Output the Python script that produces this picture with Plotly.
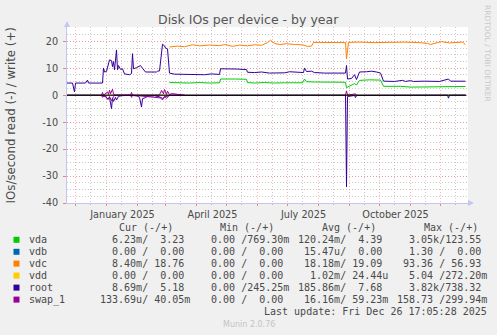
import plotly.graph_objects as go
import pandas as pd

# ---------------- data ----------------
root_w_dates = ["2024-11-22","2024-11-28","2024-11-30","2024-12-01","2024-12-11","2024-12-13","2024-12-14","2024-12-28",
    "2024-12-29","2024-12-30","2025-01-01","2025-01-04","2025-01-06","2025-01-07","2025-01-08","2025-01-09","2025-01-11",
    "2025-01-12","2025-01-13","2025-01-15","2025-01-17","2025-01-19","2025-01-24","2025-01-26","2025-01-27","2025-01-28",
    "2025-01-31","2025-02-02","2025-02-04","2025-02-06","2025-02-09","2025-02-20","2025-02-21","2025-02-23","2025-02-26",
    "2025-02-28","2025-03-01","2025-03-03","2025-03-05","2025-03-10","2025-03-20","2025-03-30","2025-04-09","2025-04-16",
    "2025-04-24","2025-04-25","2025-05-04","2025-05-12","2025-05-21","2025-05-22","2025-05-29","2025-06-05","2025-06-13",
    "2025-06-21","2025-06-28","2025-07-03","2025-07-10","2025-07-17","2025-07-18","2025-07-20","2025-07-25","2025-07-28",
    "2025-08-07","2025-08-17","2025-08-28","2025-08-29","2025-08-30","2025-09-03","2025-09-06","2025-09-08","2025-09-11",
    "2025-09-18","2025-09-23","2025-09-28","2025-10-02","2025-10-05","2025-10-16","2025-10-24","2025-10-27","2025-11-01",
    "2025-11-04","2025-11-15","2025-11-30","2025-12-09","2025-12-11","2025-12-26"]
root_w = [4.5,4.5,1.2,4.5,4.5,5.6,4.5,4.5,
    10.1,8.6,8.8,13.1,12.8,10.6,12.5,9.4,16.8,
    9.4,11.0,9.6,9.8,7.9,7.6,8.0,15.4,9.8,
    10.2,10.5,11.0,10.0,8.6,8.6,8.9,9.0,18.9,
    18.3,17.5,17.2,8.2,7.8,7.7,7.8,7.6,7.9,
    7.7,9.8,9.6,9.7,9.5,8.5,8.4,8.6,8.2,
    8.3,8.3,8.7,8.6,8.4,10.1,8.8,8.9,8.4,
    8.2,8.1,8.2,11.0,6.0,6.2,7.6,5.8,8.6,
    8.7,8.9,8.6,8.2,5.2,5.1,5.5,5.1,5.4,
    5.1,5.2,5.1,6.0,5.2,5.18]

root_r_dates = ["2024-11-22","2024-12-28","2024-12-29","2024-12-31","2025-01-02","2025-01-04","2025-01-06","2025-01-07",
    "2025-01-08","2025-01-10","2025-01-11","2025-01-13","2025-01-16","2025-01-24","2025-02-01","2025-02-03","2025-02-05",
    "2025-02-06","2025-02-09","2025-02-11","2025-02-18","2025-02-23","2025-02-26","2025-03-01","2025-03-05","2025-08-28",
    "2025-08-29","2025-08-30","2025-09-06","2025-09-07","2025-09-08","2025-12-08","2025-12-09","2025-12-10","2025-12-26"]
root_r = [0.0,0.0,-0.5,-0.3,-1.5,-0.8,-5.0,-1.0,
    -2.3,-0.8,-1.8,-0.4,-0.2,0.0,-0.3,-0.8,-4.4,
    -1.3,-0.9,-0.4,-0.2,-0.6,-1.2,-0.5,-0.1,0.0,
    -34.0,-0.5,-0.1,-0.9,-0.1,0.0,-1.1,0.0,0.0]

vda_w_dates = ["2025-03-05","2025-03-15","2025-03-25","2025-04-04","2025-04-14","2025-04-24","2025-04-25","2025-05-10",
    "2025-05-21","2025-05-22","2025-05-29","2025-06-08","2025-06-18","2025-06-28","2025-07-08","2025-07-16","2025-07-18",
    "2025-07-20","2025-07-28","2025-08-07","2025-08-17","2025-08-28","2025-08-29","2025-09-03","2025-09-06","2025-09-08",
    "2025-09-11","2025-09-21","2025-10-02","2025-10-05","2025-10-22","2025-11-01","2025-11-16","2025-11-30","2025-12-15",
    "2025-12-26"]
vda_w = [4.7,4.6,4.5,4.7,4.5,4.6,6.0,6.0,
    5.9,4.7,4.5,4.7,4.5,4.6,4.6,4.6,6.0,
    5.0,4.9,4.8,4.8,4.8,2.8,3.9,4.3,3.8,
    5.5,5.7,5.6,3.3,3.3,3.0,3.1,3.2,3.1,
    3.23]

vdc_w_dates = ["2025-03-05","2025-03-13","2025-03-20","2025-03-28","2025-04-04","2025-04-14","2025-04-24","2025-04-30",
    "2025-05-07","2025-05-14","2025-05-22","2025-05-29","2025-06-05","2025-06-11","2025-06-14","2025-06-18","2025-06-23",
    "2025-06-30","2025-07-08","2025-07-16","2025-07-21","2025-07-25","2025-07-27","2025-08-12","2025-08-28","2025-08-29",
    "2025-08-31","2025-09-11","2025-09-26","2025-10-11","2025-10-26","2025-11-10","2025-11-18","2025-11-21","2025-11-27",
    "2025-12-02","2025-12-10","2025-12-20","2025-12-23","2025-12-26"]
vdc_w = [17.9,18.2,18.0,18.7,18.3,18.6,18.4,18.8,
    18.1,18.6,18.3,18.7,18.5,19.5,20.4,19.2,18.8,
    19.1,18.8,18.7,18.1,18.2,19.6,19.6,19.5,13.5,
    19.6,19.7,19.5,19.6,19.7,19.5,19.2,18.8,19.4,
    19.9,19.4,19.6,19.7,18.76]

vdb_dates = ["2024-11-22","2025-12-26"]
vdb_w = [0.0, 0.0]
vdd_dates = ["2024-11-22","2025-12-26"]
vdd_w = [0.0, 0.0]

swap_w_dates = ["2024-12-27","2024-12-28","2024-12-29","2025-01-02","2025-01-03","2025-01-04","2025-01-05",
    "2025-01-07","2025-01-08","2025-01-09","2025-01-10","2025-01-25","2025-01-26","2025-01-27","2025-02-22","2025-02-24",
    "2025-02-25","2025-02-27","2025-02-28","2025-03-02","2025-03-03","2025-03-05","2025-03-07","2025-03-20"]
swap_w = [0.0,1.0,0.0,1.2,0.3,1.8,0.5,
    2.2,0.4,0.0,0.0,0.0,1.0,0.0,0.0,0.8,
    1.8,0.5,2.1,0.3,1.5,0.2,0.6,0.0]
swap_r_dates = ["2024-12-27","2024-12-28","2024-12-29","2025-01-03","2025-01-04","2025-01-06","2025-01-08",
    "2025-01-09","2025-01-25","2025-01-26","2025-01-27","2025-02-24","2025-02-26","2025-02-28","2025-03-02","2025-03-04",
    "2025-03-06","2025-03-20"]
swap_r = [0.0,-0.8,0.0,-1.5,-0.5,-2.0,-0.6,
    0.0,0.0,-0.8,0.0,-1.0,-1.8,-0.4,-1.2,-0.3,
    0.0,0.0]
swap_late_dates = ["2025-08-28","2025-08-29","2025-08-30","2025-09-07","2025-09-08"]
swap_late_w = [0.0,1.6,0.0,0.5,0.0]

x_labels = ["January 2025", "April 2025", "July 2025", "October 2025"]
x_label_months = ["2025-01-01", "2025-04-01", "2025-07-01", "2025-10-01"]
y_ticks = [-40, -30, -20, -10, 0, 10, 20]

legend_names = ["vda", "vdb", "vdc", "vdd", "root", "swap_1"]
legend_colors = ["#00CC00", "#0066B3", "#FF8000", "#FFCC00", "#330099", "#990099"]
legend_headers = ["Cur (-/+)", "Min (-/+)", "Avg (-/+)", "Max (-/+)"]
legend_cur = ["  6.23m/  3.23", "  0.00 /  0.00", "  8.40m/ 18.76", "  0.00 /  0.00", "  8.69m/  5.18", "133.69u/ 40.05m"]
legend_min = ["  0.00 /769.30m", "  0.00 /  0.00", "  0.00 /  0.00", "  0.00 /  0.00", "  0.00 /245.25m", "  0.00 /  0.00"]
legend_avg = ["120.24m/  4.39", " 15.47u/  0.00", " 18.18m/ 19.09", "  1.02m/ 24.44u", "185.86m/  7.68", " 16.16m/ 59.23m"]
legend_max = ["  3.05k/123.55", "  1.30 /  0.00", " 93.36 / 56.93", "  5.04 /272.20m", "  3.82k/738.32", "158.73 /299.94m"]
last_update = "Last update: Fri Dec 26 17:05:28 2025"

# ---------------- layout geometry ----------------
W, H = 497, 335
ML, MR, MT, MB = 67, 29, 27, 132
PW = W - ML - MR
PH = H - MT - MB

def px(x):
    return (x - ML) / PW

def py(y):
    return (H - MB - y) / PH

SANS = "DejaVu Sans"
MONO = "DejaVu Sans Mono"
TXT = "#4a4a4a"

fig = go.Figure()

def add(xs, ys, color):
    fig.add_trace(go.Scatter(x=xs, y=ys, mode="lines", line=dict(color=color, width=1),
                             hoverinfo="skip", showlegend=False))

add(vda_w_dates, vda_w, legend_colors[0])
add(vdb_dates, vdb_w, legend_colors[1])
add(vdc_w_dates, vdc_w, legend_colors[2])
add(vdd_dates, vdd_w, legend_colors[3])
add(root_r_dates, root_r, legend_colors[4])
add(root_w_dates, root_w, legend_colors[4])
add(swap_r_dates, swap_r, legend_colors[5])
add(swap_w_dates, swap_w, legend_colors[5])
add(swap_late_dates, swap_late_w, legend_colors[5])

month_starts = [d.strftime("%Y-%m-%d") for d in pd.date_range("2024-12-01", "2025-12-01", freq="MS")]
mid_months = [(d + pd.Timedelta(days=15)).strftime("%Y-%m-%d") for d in pd.date_range("2024-11-01", "2025-12-01", freq="MS")]
ticktext = [x_labels[x_label_months.index(m)] if m in x_label_months else "" for m in month_starts]

axis_col = "#c2c6f2"
fig.update_xaxes(
    type="date", range=["2024-11-22 12:00", "2025-12-28 12:00"],
    tickmode="array", tickvals=month_starts, ticktext=ticktext, ticklabelshift=16,
    showgrid=True, gridcolor="rgba(240,120,120,0.55)", griddash="1px,2px", gridwidth=1,
    ticks="outside", ticklen=2, tickcolor="rgba(240,100,100,0.8)",
    minor=dict(tickmode="array", tickvals=mid_months, showgrid=True, gridcolor="rgba(150,150,150,0.5)",
               griddash="1px,2px", ticks="outside", ticklen=1, tickcolor="rgba(150,150,150,0.6)"),
    showline=True, linecolor=axis_col, linewidth=1,
    tickfont=dict(family=SANS, size=9.7, color=TXT),
    zeroline=False, fixedrange=True,
)
fig.update_yaxes(
    range=[-40, 25.3], tickmode="array", tickvals=y_ticks, ticktext=[str(v) for v in y_ticks],
    showgrid=True, gridcolor="rgba(240,120,120,0.55)", griddash="1px,2px", gridwidth=1,
    ticks="outside", ticklen=3, tickcolor="rgba(240,100,100,0.8)", ticklabelstandoff=3,
    minor=dict(dtick=2.5, tick0=0, showgrid=True, gridcolor="rgba(150,150,150,0.5)", griddash="1px,2px"),
    showline=True, linecolor=axis_col, linewidth=1,
    tickfont=dict(family=SANS, size=9.7, color=TXT),
    zeroline=False, fixedrange=True,
)

shapes = []
shapes.append(dict(type="line", xref="x", yref="y", x0="2024-11-22 12:00", x1="2025-12-26 17:05", y0=0, y1=0,
                   line=dict(color="black", width=1), layer="above"))
shapes.append(dict(type="path", xref="paper", yref="paper",
                   path=f"M {px(468)} {py(200)} L {px(474)} {py(203)} L {px(468)} {py(206)} Z",
                   fillcolor=axis_col, line=dict(width=0)))
shapes.append(dict(type="path", xref="paper", yref="paper",
                   path=f"M {px(64)} {py(27)} L {px(67)} {py(21)} L {px(70)} {py(27)} Z",
                   fillcolor=axis_col, line=dict(width=0)))

ann = []
ann.append(dict(text="Disk IOs per device - by year", x=px(248.5), y=py(20), xref="paper", yref="paper",
                showarrow=False, xanchor="center", yanchor="middle", font=dict(family=SANS, size=12.5, color="#555")))
ann.append(dict(text="IOs/second read (-) / write (+)", x=px(10.5), y=py(116), xref="paper", yref="paper",
                showarrow=False, textangle=-90, xanchor="center", yanchor="middle",
                font=dict(family=SANS, size=11.8, color=TXT)))
ann.append(dict(text="RRDTOOL / TOBI OETIKER", x=px(488), y=py(53), xref="paper", yref="paper",
                showarrow=False, textangle=90, xanchor="center", yanchor="middle",
                font=dict(family=SANS, size=7.5, color="#c8c8c8")))

def nb(s):
    return s.replace(" ", "\u00a0")

hdr_x = [116.7, 218, 320, 421.7]
col_x = [98.3, 197, 296, 395.3]
for h, x in zip(legend_headers, hdr_x):
    ann.append(dict(text=nb(h), x=px(x), y=py(227.5), xref="paper", yref="paper", showarrow=False,
                    xanchor="left", yanchor="middle", font=dict(family=MONO, size=10, color=TXT)))
row_y = [239.8, 251.8, 263.6, 275.6, 287.6, 299.6]
for i, name in enumerate(legend_names):
    yy = row_y[i]
    shapes.append(dict(type="rect", xref="paper", yref="paper", x0=px(13.5), x1=px(19.5), y0=py(yy - 3), y1=py(yy + 3),
                       fillcolor=legend_colors[i], line=dict(width=0)))
    ann.append(dict(text=nb(name), x=px(26.5), y=py(yy), xref="paper", yref="paper", showarrow=False,
                    xanchor="left", yanchor="middle", font=dict(family=MONO, size=10, color=TXT)))
    for col, x in zip([legend_cur, legend_min, legend_avg, legend_max], col_x):
        ann.append(dict(text=nb(col[i]), x=px(x), y=py(yy), xref="paper", yref="paper", showarrow=False,
                        xanchor="left", yanchor="middle", font=dict(family=MONO, size=10, color=TXT)))
ann.append(dict(text=nb(last_update), x=px(261.5), y=py(311.7), xref="paper", yref="paper", showarrow=False,
                xanchor="left", yanchor="middle", font=dict(family=MONO, size=10, color=TXT)))
ann.append(dict(text="Munin 2.0.76", x=px(248.5), y=py(324.3), xref="paper", yref="paper", showarrow=False,
                xanchor="center", yanchor="middle", font=dict(family=SANS, size=8, color="#c4c4c4")))

fig.update_layout(
    width=W, height=H, margin=dict(l=ML, r=MR, t=MT, b=MB, pad=0),
    paper_bgcolor="#F0F0F0", plot_bgcolor="white",
    shapes=shapes, annotations=ann, showlegend=False,
)
fig.write_html("out.html", config={"displayModeBar": False})
